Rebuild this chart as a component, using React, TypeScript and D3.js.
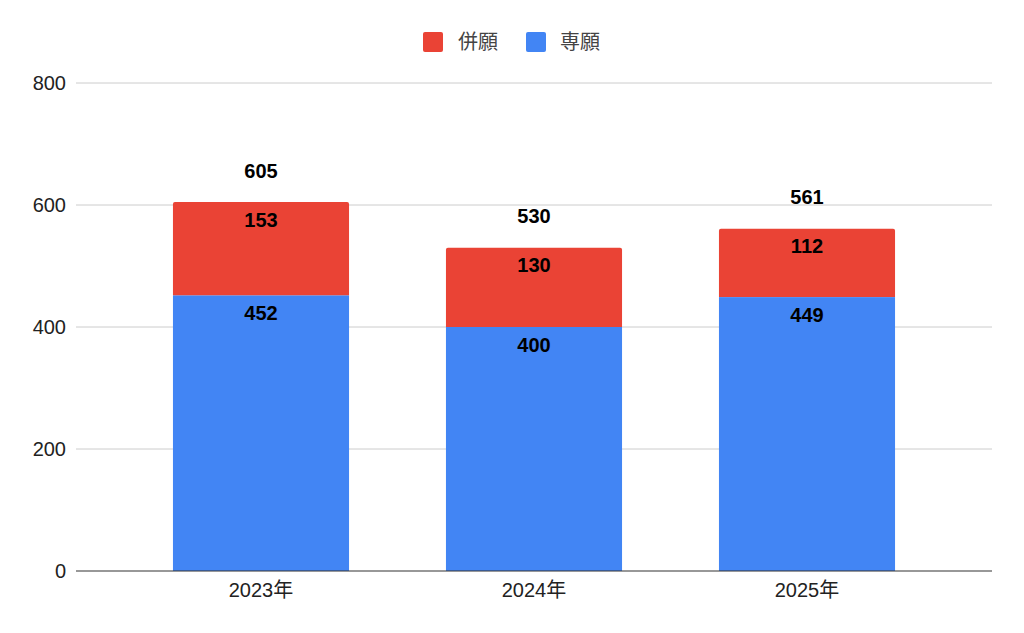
import React from "react";
import * as d3 from "d3";

const categories = ["2023年", "2024年", "2025年"];
const senganValues = [452, 400, 449];
const heiganValues = [153, 130, 112];
const yTicks = [0, 200, 400, 600, 800];
const seriesNames = ["併願", "専願"];

const W = 1024;
const H = 633;
const RED = "#EA4335";
const BLUE = "#4285F4";
const FONT = "Arial, 'Liberation Sans', 'Noto Sans CJK JP', sans-serif";

export default function App() {
  const y = d3.scaleLinear().domain([0, 800]).range([571, 83]);
  const x = d3
    .scaleBand<string>()
    .domain(categories)
    .range([124.5, 943.5])
    .paddingInner(0.355)
    .paddingOuter(0.1775);
  const bw = x.bandwidth();
  const totals = categories.map((_, i) => senganValues[i] + heiganValues[i]);

  const roundTop = (x0: number, y0: number, w: number, h: number, r: number) => {
    const p = d3.path();
    p.moveTo(x0, y0 + h);
    p.lineTo(x0, y0 + r);
    p.arcTo(x0, y0, x0 + r, y0, r);
    p.lineTo(x0 + w - r, y0);
    p.arcTo(x0 + w, y0, x0 + w, y0 + r, r);
    p.lineTo(x0 + w, y0 + h);
    p.closePath();
    return p.toString();
  };

  const mid = 7.2;

  return (
    <svg width={W} height={H} style={{ position: "absolute", left: 0, top: 0, background: "#fff" }}>
      <rect x={0} y={0} width={W} height={H} fill="#fff" />
      {yTicks.map((t) => (
        <g key={t}>
          {t !== 0 && (
            <line x1={76} x2={992} y1={y(t)} y2={y(t)} stroke="#cccccc" strokeWidth={1} />
          )}
          <text
            x={66}
            y={y(t) + mid}
            textAnchor="end"
            fontFamily={FONT}
            fontSize={20}
            fill="#222"
          >
            {t}
          </text>
        </g>
      ))}
      {categories.map((c, i) => {
        const x0 = x(c)!;
        const s = senganValues[i];
        const h2 = heiganValues[i];
        return (
          <g key={c}>
            <rect x={x0} y={y(s)} width={bw} height={y(0) - y(s)} fill={BLUE} />
            <path d={roundTop(x0, y(s + h2), bw, y(s) - y(s + h2), 2)} fill={RED} />
          </g>
        );
      })}
      <line x1={76} x2={992} y1={y(0)} y2={y(0)} stroke="#333" strokeWidth={1.2} />
      {categories.map((c, i) => {
        const cx = x(c)! + bw / 2;
        const s = senganValues[i];
        const h2 = heiganValues[i];
        return (
          <g key={c + "l"} fontFamily={FONT} fontSize={20} fontWeight="bold" fill="#000" textAnchor="middle">
            <text x={cx} y={y(s) + 18 + mid}>{s}</text>
            <text x={cx} y={y(s + h2) + 17.5 + mid}>{h2}</text>
            <text x={cx} y={y(totals[i]) - 31.5 + mid}>{totals[i]}</text>
          </g>
        );
      })}
      {categories.map((c) => (
        <text
          key={c + "x"}
          x={x(c)! + bw / 2}
          y={590 + mid}
          textAnchor="middle"
          fontFamily={FONT}
          fontSize={20}
          fill="#222"
        >
          {c}
        </text>
      ))}
      <g fontFamily={FONT} fontSize={20} fill="#444">
        <rect x={423} y={32} width={20} height={20} rx={2} fill={RED} />
        <text x={458} y={42 + mid}>{seriesNames[0]}</text>
        <rect x={526} y={32} width={20} height={20} rx={2} fill={BLUE} />
        <text x={560} y={42 + mid}>{seriesNames[1]}</text>
      </g>
    </svg>
  );
}
